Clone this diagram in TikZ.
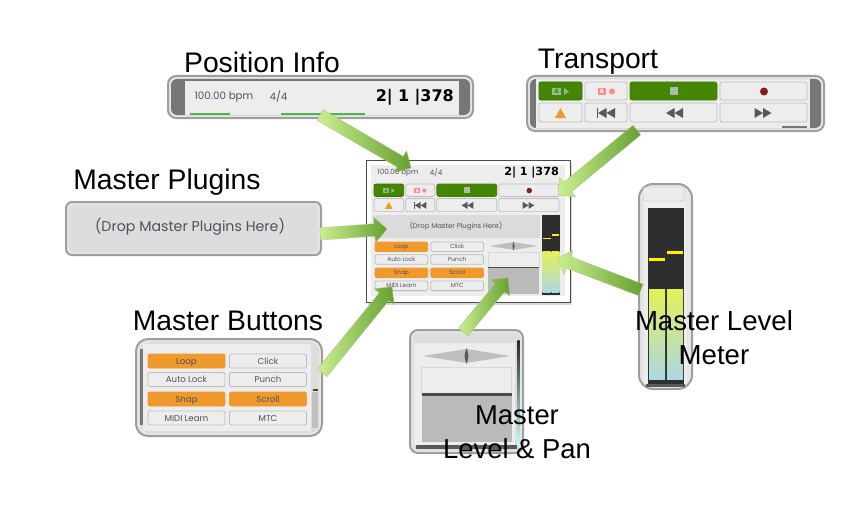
\documentclass[tikz,border=0pt]{standalone}
\usepackage{fontspec}
\setmainfont{Liberation Sans}
\newfontfamily\uifont{Poppins}
\newfontfamily\timefont{DejaVu Sans}
\usetikzlibrary{calc,shapes.arrows,shadows}
\definecolor{panelgray}{HTML}{DDDDDD}
\definecolor{rimgray}{HTML}{E6E6E6}
\definecolor{stripgray}{HTML}{777777}
\definecolor{facegray}{HTML}{EDEDED}
\definecolor{btnline}{HTML}{BDBDBD}
\definecolor{btnorange}{HTML}{F09A2E}
\definecolor{btngreen}{HTML}{458504}
\definecolor{uitext}{HTML}{505060}
\definecolor{recred}{HTML}{8E1B1B}
\definecolor{arrowlight}{HTML}{CBEF92}
\definecolor{arrowdark}{HTML}{66A030}
\definecolor{metertop}{HTML}{E3F05A}
\definecolor{meterlow}{HTML}{ADD8E0}
\newcommand\panelbox[6]{
	\draw[line width=2pt, draw=black!38, fill=rimgray, rounded corners=#1pt] (#2,#3) rectangle (#4,#5);
	\fill[#6, rounded corners=#1pt-2pt] (#2+3,#3+3) rectangle (#4-3,#5-3);
}
\newcommand\fatarrow[2]{
	\path let \p1 = ($(#2)-(#1)$), \n1 = {atan2(\y1,\x1)}, \n2 = {veclen(\x1,\y1)} in
		node[fat, rotate=\n1, minimum height=\n2] (#1#2) at (#1) {};
}
\newcommand\rewindicon[2]{
	\fill[black!65] (#1,#2) -- ++(8.5,-5) -- ++(0,10) -- cycle;
	\fill[black!65] (#1+8.5,#2) -- ++(8.5,-5) -- ++(0,10) -- cycle;
}
\newcommand\forwardicon[2]{
	\fill[black!65] (#1,#2) -- ++(-8.5,-5) -- ++(0,10) -- cycle;
	\fill[black!65] (#1+8.5,#2) -- ++(-8.5,-5) -- ++(0,10) -- cycle;
}
\newcommand\transportrows[1]{
	\draw[key, fill=btngreen, draw=btngreen!80!black] (0,0) rectangle (43,18);
	\draw[key, fill=facegray] (46,0) rectangle (88,18);
	\draw[key, fill=btngreen, draw=btngreen] (91,0) rectangle (178,18);
	\draw[key, fill=facegray] (181,0) rectangle (268,18);
	\draw[key, fill=facegray] (0,21) rectangle (43,40);
	\draw[key, fill=facegray] (46,21) rectangle (88,40);
	\draw[key, fill=facegray] (91,21) rectangle (178,40);
	\draw[key, fill=facegray] (181,21) rectangle (268,40);
	\fill[green!20!gray!70] (13,6) rectangle (22,13);
	\node[akey, text=btngreen] (#1playA) at (17.5,9.5) {A};
	\fill[green!20!gray!70] (25,6) -- (30,9.5) -- (25,13) -- cycle;
	\fill[red!45] (58.5,6) rectangle (67,13);
	\node[akey, text=white] (#1recA) at (62.75,9.5) {A};
	\fill[red!45] (73,9.5) circle (3);
	\fill[green!15!gray!60] (131,5) rectangle (139,13);
	\fill[recred] (225,9.5) circle (4);
	\fill[btnorange] (21.5,26) -- (27,36) -- (16,36) -- cycle;
	\fill[black!65] (58,26) rectangle (59,36);
	\rewindicon{59}{31}
	\rewindicon{127}{31}
	\forwardicon{224}{31}
}
\newcommand\masterkeys[1]{
	\node[mbtn, fill=btnorange, draw=btnorange] (#1loop) at (38.5,7) {Loop};
	\node[mbtn] (#1click) at (120,7) {Click};
	\node[mbtn] (#1lock) at (38.5,25.5) {Auto Lock};
	\node[mbtn] (#1punch) at (120,25.5) {Punch};
	\node[mbtn, fill=btnorange, draw=btnorange] (#1snap) at (38.5,45) {Snap};
	\node[mbtn, fill=btnorange, draw=btnorange] (#1scroll) at (120,45) {Scroll};
	\node[mbtn] (#1learn) at (38.5,64) {MIDI Learn};
	\node[mbtn] (#1mtc) at (120,64) {MTC};
}
\newcommand\posinfo[1]{
	\node[uitxt] (#1bpm) at (224,97) {100.00 bpm};
	\node[uitxt] (#1sig) at (278.5,97) {4/4};
	\node[anchor=east, inner sep=0, font=\timefont\bfseries\fontsize{16}{18}\selectfont] (#1time) at (454,97) {2|\,\,1\,\,|378};
}
\newcommand\levelpan{
	\fill[black!25] (-43.5,0) -- (0,-7) -- (43.5,0) -- (0,7) -- cycle;
	\fill[black!65] (-2,0) .. controls (-1,-5) .. (0,-8) .. controls (1,-5) .. (2,0) .. controls (1,5) .. (0,8) .. controls (-1,5) .. cycle;
	\draw[fill=facegray, draw=black!15] (-45,11) rectangle (45,38);
	\fill[black!27] (-45,38) rectangle (45,86);
	\fill[black!70] (-45,37) rectangle (45,39.5);
}
\newcommand\meterbars{
	\fill[black!82] (0,0) rectangle (36.5,176);
	\shade[top color=metertop, bottom color=meterlow] (1.5,81) rectangle (17.5,171);
	\shade[top color=metertop, bottom color=meterlow] (19.5,81) rectangle (35.5,171);
	\fill[yellow] (1.5,50) rectangle (17.5,53);
	\fill[yellow] (19.5,42.5) rectangle (35.5,45.5);
}

\begin{document}
\begin{tikzpicture}[x=1pt, y=-1pt,
		title/.style = {font=\fontsize{28.3}{34}\selectfont, align=center, inner sep=0},
		fat/.style = {single arrow, anchor=tail, inner xsep=0, inner ysep=6pt, single arrow head extend=6.5pt, single arrow tip angle=90, left color=arrowlight, right color=arrowdark, draw=arrowdark!60, line width=.3pt},
		key/.style = {draw=btnline, line width=.7pt, rounded corners=2pt},
		akey/.style = {inner sep=0, transform shape, font=\uifont\bfseries\fontsize{6}{7}\selectfont},
		mbtn/.style = {draw=btnline, line width=.8pt, fill=facegray, rounded corners=2pt, minimum width=77pt, minimum height=14pt, inner sep=0, text height=6.2pt, text depth=0pt, text=uitext, font=\uifont\fontsize{8.6}{11}\selectfont},
		uitxt/.style = {inner sep=0, text=uitext, font=\uifont\fontsize{10.3}{12}\selectfont}]
	\useasboundingbox (0,0) rectangle (865,511);

	\panelbox{8}{168}{76}{473}{118}{stripgray}
	\fill[facegray] (185,81) rectangle (459,114.8);
	\fill[green!45!gray] (190,113) rectangle (230,114.5);
	\fill[green!45!gray] (281,113) rectangle (365,114.5);
	\posinfo{pos}

	\panelbox{8}{527}{76}{824}{131}{stripgray}
	\fill[facegray] (536,79) rectangle (810,128);
	\fill[stripgray] (782,126) rectangle (807,128);
	\begin{scope}[shift={(539,82)}]
		\transportrows{big}
	\end{scope}

	\panelbox{6}{66}{202}{321}{255}{panelgray}
	\node[uitxt, font=\uifont\fontsize{14.2}{16}\selectfont] (plug) at (190,227) {(Drop Master Plugins Here)};

	\panelbox{12}{136}{339}{322}{436}{panelgray}
	\fill[stripgray] (140,349) rectangle (143,425);
	\fill[facegray] (143,344) rectangle (311,431);
	\fill[black!25] (312,392) rectangle (318,428);
	\fill[black!75] (313,389) rectangle (318,391);
	\begin{scope}[shift={(148,354)}]
		\masterkeys{big}
	\end{scope}

	\panelbox{8}{410}{330}{523}{453}{panelgray}
	\fill[facegray] (414,343) rectangle (515,445);
	\fill[black!65] (416,445) rectangle (517,449);
	\shade[top color=black!85, middle color=yellow!80, bottom color=cyan!25] (517.5,340) rectangle (519.5,445);
	\begin{scope}[shift={(466.5,356)}]
		\levelpan
	\end{scope}

	\panelbox{14}{639}{184}{692}{389}{rimgray}
	\fill[facegray] (644,202) rectangle (687,383);
	\draw[fill=black!8, draw=black!25, rounded corners=3pt] (643,187) rectangle (684,201);
	\fill[black!65] (646,384) rectangle (685,387);
	\begin{scope}[shift={(647.5,208)}]
		\meterbars
	\end{scope}

	\draw[draw=black!70, line width=.9pt, fill=white, drop shadow={shadow xshift=2pt, shadow yshift=-3pt, opacity=.3}] (366,160) rectangle (570,302);
	\fill[facegray] (371,165) rectangle (565,296);
	\begin{scope}[shift={(241.2,105.1)}, scale=.7, every node/.append style={transform shape}]
		\posinfo{small}
	\end{scope}
	\begin{scope}[shift={(374,184)}, scale=.69]
		\transportrows{small}
	\end{scope}
	\fill[black!14] (373,215) rectangle (540,238);
	\node[uitxt, font=\uifont\fontsize{6.9}{8}\selectfont] (smallplug) at (456,226.5) {(Drop Master Plugins Here)};
	\begin{scope}[shift={(375,242)}, scale=.685, every node/.append style={transform shape}]
		\masterkeys{small}
	\end{scope}
	\begin{scope}[shift={(513.5,246)}, scale=.56]
		\levelpan
	\end{scope}
	\begin{scope}[shift={(542,215)}, xscale=.49, yscale=.455]
		\meterbars
	\end{scope}

	\coordinate (posTail) at (320,115);
	\coordinate (posTip) at (411,168);
	\coordinate (transTail) at (637,130);
	\coordinate (transTip) at (558,195);
	\coordinate (plugTail) at (320,234);
	\coordinate (plugTip) at (387,229);
	\coordinate (btnTail) at (322,373);
	\coordinate (btnTip) at (392,287);
	\coordinate (levelTail) at (463,332);
	\coordinate (levelTip) at (508,278);
	\coordinate (meterTail) at (641,290);
	\coordinate (meterTip) at (557,258);
	\fatarrow{posTail}{posTip}
	\fatarrow{transTail}{transTip}
	\fatarrow{plugTail}{plugTip}
	\fatarrow{btnTail}{btnTip}
	\fatarrow{levelTail}{levelTip}
	\fatarrow{meterTail}{meterTip}

	\node[title] (posLabel) at (262,62) {Position Info};
	\node[title] (transLabel) at (598,62) {Transport};
	\node[title] (plugLabel) at (167,182) {Master Plugins};
	\node[title] (btnLabel) at (228,321) {Master Buttons};
	\node[title, font=\fontsize{27.4}{34}\selectfont] (levelLabel) at (517,432) {Master\\Level \& Pan};
	\node[title, font=\fontsize{27.6}{34}\selectfont] (meterLabel) at (714,338) {Master Level\\Meter};
\end{tikzpicture}
\end{document}
